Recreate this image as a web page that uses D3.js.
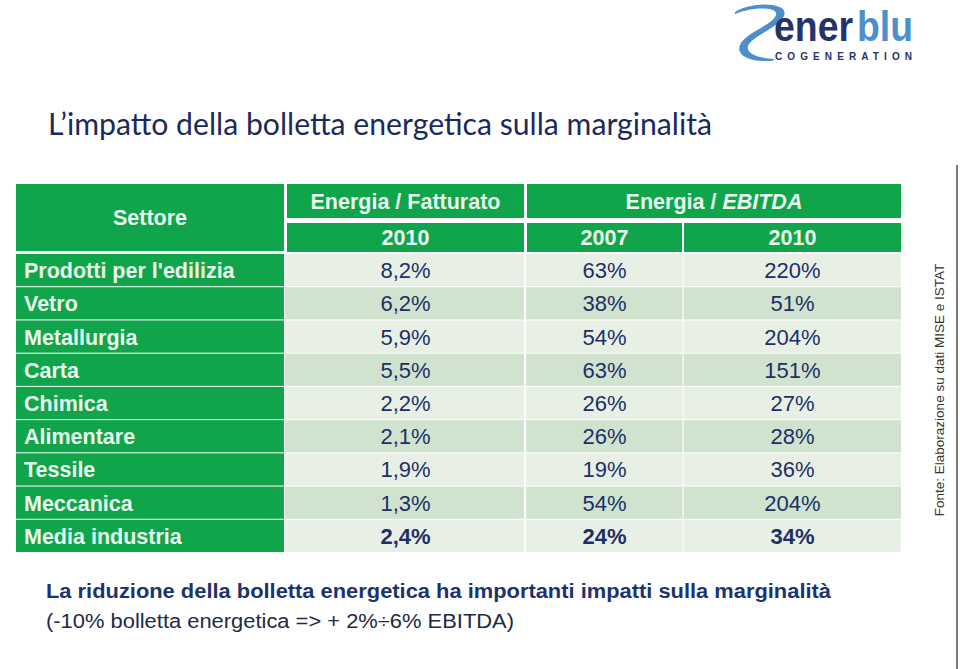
<!DOCTYPE html>
<html><head><meta charset="utf-8">
<script src="https://cdn.jsdelivr.net/npm/d3@7"></script>
<style>html,body{margin:0;padding:0;background:#fff;}svg{display:block;}</style>
</head><body>
<svg id="c" width="960" height="669"></svg>
<script>
const sectors = ["Prodotti per l'edilizia","Vetro","Metallurgia","Carta","Chimica","Alimentare","Tessile","Meccanica","Media industria"];
const energiaFatturato2010 = ["8,2%","6,2%","5,9%","5,5%","2,2%","2,1%","1,9%","1,3%","2,4%"];
const energiaEbitda2007 = ["63%","38%","54%","63%","26%","26%","19%","54%","24%"];
const energiaEbitda2010 = ["220%","51%","204%","151%","27%","28%","36%","204%","34%"];
const columnKeys = ["sector","ef2010","ee2007","ee2010"];
const yearLabels = ["2010","2007","2010"];

const svg = d3.select("#c");
const green = "#10a54a", headText = "#e9f9ee", navy = "#1d2f66";
const rowLight = "#e8f0e6", rowDark = "#cfe3cf";

// logo
const logo = svg.append("g");
logo.append("path")
  .attr("d","M735,12 C752,1 790,2 784,16 C778,28 752,36 748,46 C746,53 756,58 775,59 L772,61 C748,62 736,55 740,45 C745,33 773,25 776,15 C779,7 754,6 735,14 Z")
  .attr("fill","#4d8fcb");
logo.append("text").attr("x",774).attr("y",41).attr("font-family","Liberation Sans, Arial").attr("font-weight","bold")
  .attr("font-size",42).attr("textLength",79).attr("lengthAdjust","spacingAndGlyphs").attr("fill","#26336b").text("ener");
logo.append("text").attr("x",857).attr("y",41).attr("font-family","Liberation Sans, Arial").attr("font-weight","bold")
  .attr("font-size",42).attr("textLength",56).attr("lengthAdjust","spacingAndGlyphs").attr("fill","#4d8fcb").text("blu");
logo.append("text").attr("x",775).attr("y",59.5).attr("font-family","Liberation Sans, Arial").attr("font-weight","bold")
  .attr("font-size",10).attr("textLength",137).attr("lengthAdjust","spacing").attr("fill","#26336b").text("COGENERATION");

// title
svg.append("text").attr("x",48).attr("y",135).attr("font-family","Lato, 'Open Sans', sans-serif")
  .attr("font-size",31).attr("textLength",664).attr("lengthAdjust","spacingAndGlyphs").attr("fill","#1b2a5e")
  .text("L\u2019impatto della bolletta energetica sulla marginalità");

// scales
const x = d3.scaleOrdinal().domain(columnKeys).range([16,287,527,684]);
const xEnd = d3.scaleOrdinal().domain(columnKeys).range([284,524,682,901]);
const y = d3.scaleBand().domain(sectors).range([255,552]).paddingInner(0.06).paddingOuter(0);

const font = "Liberation Sans, Arial, sans-serif";
const tbl = svg.append("g");

// header cells
const headers = [
  {x0:16,x1:284,y0:184,y1:251,text:"Settore"},
  {x0:287,x1:524,y0:184,y1:218,text:"Energia / Fatturato"},
  {x0:527,x1:901,y0:184,y1:218,text:"Energia / ",italic:"EBITDA"}
];
headers.forEach(h=>{
  tbl.append("rect").attr("x",h.x0).attr("y",h.y0).attr("width",h.x1-h.x0).attr("height",h.y1-h.y0).attr("fill",green);
  const t = tbl.append("text").attr("x",(h.x0+h.x1)/2).attr("y",(h.y0+h.y1)/2+7.5).attr("text-anchor","middle")
    .attr("font-family",font).attr("font-weight","bold").attr("font-size",21.5).attr("fill",headText).text(h.text);
  if(h.italic) t.append("tspan").attr("font-style","italic").text(h.italic);
});
// year row
const yearCols = columnKeys.slice(1);
yearCols.forEach((k,i)=>{
  tbl.append("rect").attr("x",x(k)).attr("y",223).attr("width",xEnd(k)-x(k)).attr("height",29).attr("fill",green);
  tbl.append("text").attr("x",(x(k)+xEnd(k))/2).attr("y",245).attr("text-anchor","middle")
    .attr("font-family",font).attr("font-weight","bold").attr("font-size",21.5).attr("fill",headText).text(yearLabels[i]);
});

// body rows
const rows = sectors.map((s,i)=>({sector:s, ef2010:energiaFatturato2010[i], ee2007:energiaEbitda2007[i], ee2010:energiaEbitda2010[i], i}));
const bandStep = y.step();
rows.forEach(r=>{
  const y0 = y(r.sector);
  const cy = y0 + y.bandwidth()/2 + 7.5;
  // sector cell
  tbl.append("rect").attr("x",16).attr("y",y0-1).attr("width",268).attr("height",bandStep-1).attr("fill",green);
  tbl.append("text").attr("x",24).attr("y",cy).attr("font-family",font).attr("font-weight","bold").attr("font-size",21.5)
    .attr("fill",headText).text(r.sector);
  // data cells
  const bg = r.i%2===0 ? rowLight : rowDark;
  yearCols.forEach(k=>{
    tbl.append("rect").attr("x",x(k)-2).attr("y",y0-1).attr("width",xEnd(k)-x(k)+2).attr("height",bandStep-1).attr("fill",bg);
    tbl.append("text").attr("x",(x(k)+xEnd(k))/2).attr("y",cy).attr("text-anchor","middle")
      .attr("font-family",font).attr("font-size",22).attr("font-weight", r.i===rows.length-1?"bold":"normal")
      .attr("fill",navy).text(r[k]);
  });
});
// vertical white separators in body
[525.5,683].forEach(xx=>{
  tbl.append("line").attr("x1",xx).attr("x2",xx).attr("y1",254).attr("y2",552).attr("stroke","#f7faf6").attr("stroke-width",1.5);
});

// source text rotated
svg.append("text").attr("transform","translate(944,390) rotate(-90)").attr("text-anchor","middle")
  .attr("font-family",font).attr("font-size",13.5).attr("fill","#333").text("Fonte: Elaborazione su dati MISE e ISTAT");
// vertical rule
svg.append("line").attr("x1",957).attr("x2",957).attr("y1",165).attr("y2",669).attr("stroke","#7a7a7a").attr("stroke-width",2);

// bottom text
svg.append("text").attr("x",46).attr("y",598).attr("font-family",font).attr("font-weight","bold").attr("font-size",19.5)
  .attr("fill","#1d3370").attr("textLength",785).attr("lengthAdjust","spacingAndGlyphs")
  .text("La riduzione della bolletta energetica ha importanti impatti sulla marginalità");
svg.append("text").attr("x",46).attr("y",628).attr("font-family",font).attr("font-size",19.5)
  .attr("fill","#222a45").attr("textLength",468).attr("lengthAdjust","spacingAndGlyphs")
  .text("(-10% bolletta energetica => + 2%÷6% EBITDA)");
</script>
</body></html>
